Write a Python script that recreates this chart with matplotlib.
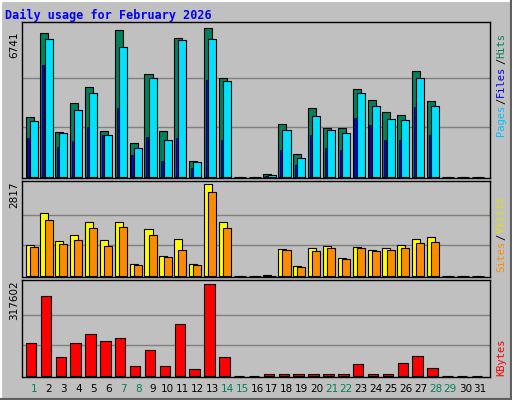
import matplotlib
matplotlib.use("Agg")
import matplotlib.pyplot as plt
from matplotlib.patches import Rectangle

days = list(range(1, 32))
hits = [2714, 6515, 2036, 3348, 4072, 2081, 6650, 1538, 4660, 2081, 6289, 724, 6741, 4479, 0, 0,
        136, 2398, 1041, 3122, 2217, 2217, 3981, 3484, 2941, 2805, 4795, 3438, 0, 0, 0]
files = [1764, 5067, 1357, 1629, 2262, 1900, 3122, 995, 1810, 724, 1764, 407, 4388, 1674, 0, 0,
         45, 1221, 543, 1900, 1312, 1221, 2669, 2352, 1674, 1674, 3167, 1900, 0, 0, 0]
pages = [2533, 6243, 1991, 3031, 3800, 1900, 5881, 1312, 4479, 1674, 6198, 679, 6243, 4343, 0, 0,
         90, 2126, 860, 2760, 2126, 1991, 3800, 3212, 2624, 2579, 4479, 3212, 0, 0, 0]
visits = [949, 1928, 1071, 1255, 1653, 1102, 1653, 367, 1438, 612, 1133, 367, 2817, 1653, 0, 0,
          31, 826, 306, 857, 918, 551, 888, 796, 857, 949, 1133, 1194, 0, 0, 0]
sites = [888, 1714, 980, 1102, 1469, 918, 1500, 337, 1255, 582, 796, 337, 2571, 1469, 0, 0,
         15, 796, 275, 765, 857, 520, 857, 765, 796, 857, 1010, 1041, 0, 0, 0]
kbytes = [113916, 276160, 65588, 113916, 144984, 120820, 131176, 34520, 89752, 34520, 179504,
          24164, 317602, 65588, 0, 0, 6904, 6904, 6904, 6904, 6904, 6904, 41424, 6904, 6904,
          44876, 69040, 27616, 0, 0, 0]
weekend = [1, 7, 8, 14, 15, 21, 22, 28, 29]

W, H = 512, 400
BG = "#c0c0c0"
fig = plt.figure(figsize=(W / 100, H / 100), dpi=100, facecolor=BG)

# outer bevel
fig.add_artist(plt.Line2D([0, 0, 1], [0, 1, 1], transform=fig.transFigure, color="white", lw=3))
fig.add_artist(plt.Line2D([0, 1, 1], [0, 0, 1], transform=fig.transFigure, color="#606060", lw=3))

fig.text(5 / W, 1 - 15 / H, "Daily usage for February 2026", color="#0000ff",
         family="DejaVu Sans Mono", weight="bold", fontsize=8.5, va="center")


def make_ax(top, bottom, base, scale):
    ax = fig.add_axes([22 / W, 1 - bottom / H, 468 / W, (bottom - top) / H])
    ax.set_facecolor(BG)
    ax.set_xlim(1 - 12 / 14.87, 1 + 456 / 14.87)
    ax.set_ylim(-(bottom - base) * scale, (base - top) * scale)
    ax.set_xticks([])
    ax.set_yticks([])
    for s in ax.spines.values():
        s.set_color("black")
        s.set_linewidth(1)
    return ax


def grid(ax, vmax):
    for f in (1 / 3, 2 / 3):
        ax.axhline(vmax * f, color="#808080", lw=1, zorder=0)


# top panel: hits / files / pages
ax1 = make_ax(22, 178, 177, 6741 / 149)
grid(ax1, 6741)
ax1.bar([d - 0.3 for d in days], hits, width=0.54, color="#00805c", edgecolor="black", lw=0.8)
ax1.bar([d - 0.38 for d in days], files, width=0.14, color="#0000ff", edgecolor="black", lw=0.5)
ax1.bar([d - 0.02 for d in days], pages, width=0.54, color="#00e0ff", edgecolor="black", lw=0.8)

# middle panel: visits / sites
ax2 = make_ax(181, 277, 276, 2817 / 92)
grid(ax2, 2817)
ax2.bar([d - 0.3 for d in days], visits, width=0.54, color="#ffff00", edgecolor="black", lw=0.8)
ax2.bar([d - 0.02 for d in days], sites, width=0.54, color="#ff8c00", edgecolor="black", lw=0.8)

# bottom panel: kbytes
ax3 = make_ax(280, 377, 376, 317602 / 92)
grid(ax3, 317602)
ax3.bar([d - 0.2 for d in days], kbytes, width=0.7, color="#ff0000", edgecolor="black", lw=0.8)

# left max labels
for y, lab in [(45, "6741"), (195, "2817"), (300, "317602")]:
    fig.text(14 / W, 1 - y / H, lab, rotation=90, fontsize=7.5, family="DejaVu Sans",
             ha="center", va="center")


def right_label(ax_top, parts):
    y = ax_top
    for text, col in parts:
        t = fig.text(501 / W, 1 - y / H, text, rotation=90, color=col, fontsize=7.5,
                     family="DejaVu Sans Mono", ha="center", va="bottom")
        y -= len(text) * 6.5


right_label(136, [("Pages", "#00c0ff"), ("/", "black"), ("Files", "#0000ff"), ("/", "black"), ("Hits", "#00805c")])
right_label(272, [("Sites", "#ff8c00"), ("/", "black"), ("Visits", "#e0e000")])
right_label(376, [("KBytes", "#ff0000")])

# day labels
for d in days:
    x = 22 + (d - (1 - 12 / 14.87)) * 14.87
    fig.text(x / W, 1 - 389 / H, str(d), color="#00805c" if d in weekend else "black",
             fontsize=7.5, family="DejaVu Sans", ha="center", va="center")

fig.savefig("out.png", dpi=100, facecolor=BG)
